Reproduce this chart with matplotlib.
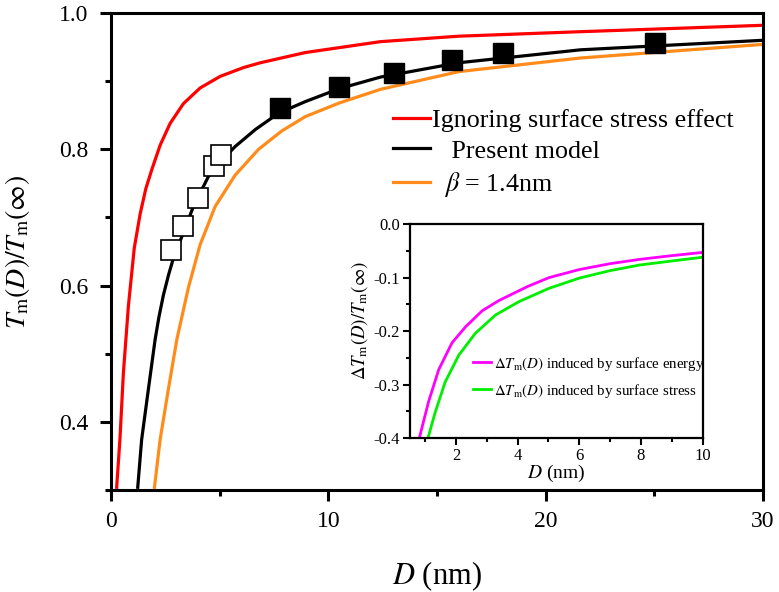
import matplotlib
matplotlib.use("Agg")
import matplotlib.pyplot as plt
from matplotlib.ticker import MultipleLocator

plt.rcParams['font.family'] = ['Liberation Serif', 'DejaVu Serif']
plt.rcParams['mathtext.fontset'] = 'stix'
plt.rcParams['axes.unicode_minus'] = False

# main curves: (D in nm, Tm(D)/Tm(inf))
red_D = [0.26, 0.41, 0.57, 0.80, 1.07, 1.34, 1.60, 1.875, 2.26, 2.72, 3.33, 4.10, 5.02, 6.10, 6.87, 8.94, 12.4, 16.0, 21.6, 30.0]
red_T = [0.304, 0.374, 0.472, 0.570, 0.655, 0.705, 0.742, 0.770, 0.806, 0.838, 0.867, 0.890, 0.907, 0.920, 0.927, 0.942, 0.958, 0.966, 0.9726, 0.982]

blk_D = [1.23, 1.41, 1.72, 2.03, 2.20, 2.41, 2.65, 2.87, 3.26, 3.79, 4.48, 5.10, 5.71, 6.64, 7.71, 8.94, 10.5, 12.4, 16.0, 21.6, 30.0]
blk_T = [0.304, 0.374, 0.448, 0.521, 0.553, 0.586, 0.616, 0.640, 0.672, 0.716, 0.760, 0.784, 0.804, 0.829, 0.853, 0.870, 0.889, 0.906, 0.927, 0.946, 0.960]

org_D = [2.0, 2.26, 2.64, 3.03, 3.56, 4.10, 4.79, 5.71, 6.79, 7.86, 8.94, 10.5, 12.4, 16.0, 21.6, 30.0]
org_T = [0.304, 0.374, 0.448, 0.521, 0.597, 0.660, 0.716, 0.762, 0.800, 0.827, 0.848, 0.868, 0.888, 0.914, 0.934, 0.954]

# experimental points
open_D = [2.75, 3.33, 4.0, 4.75, 5.05]
open_T = [0.652, 0.688, 0.729, 0.775, 0.792]
fill_D = [7.79, 10.5, 13.0, 15.7, 18.03, 25.04]
fill_T = [0.860, 0.891, 0.912, 0.931, 0.941, 0.9556]

# inset curves
mag_D = [0.81, 1.11, 1.44, 1.87, 2.31, 2.85, 3.39, 4.31, 5.02, 6.0, 7.0, 7.95, 9.0, 10.0]
mag_dT = [-0.40, -0.332, -0.272, -0.222, -0.192, -0.162, -0.143, -0.117, -0.100, -0.085, -0.074, -0.066, -0.059, -0.053]
grn_D = [1.09, 1.33, 1.65, 2.09, 2.63, 3.28, 4.04, 5.02, 6.0, 7.0, 7.95, 9.0, 10.0]
grn_dT = [-0.40, -0.351, -0.295, -0.245, -0.204, -0.170, -0.145, -0.120, -0.101, -0.087, -0.0766, -0.069, -0.062]

fig = plt.figure(figsize=(7.79, 5.92), dpi=100)
ax = fig.add_axes([0.1425, 0.1723, 0.837, 0.8057])

lw = 2.3
ax.plot(red_D, red_T, color='#ff0000', lw=lw, label='Ignoring surface stress effect')
ax.plot(blk_D, blk_T, color='black', lw=lw, label='   Present model')
ax.plot(org_D, org_T, color='#ff8c1a', lw=lw, label=r'  $\beta$ = 1.4nm')
ax.plot(open_D, open_T, 's', color='black', mfc='white', mew=1.2, ms=14, ls='none')
ax.plot(fill_D, fill_T, 's', color='black', ms=14, ls='none')

ax.set_xlim(0, 30)
ax.set_ylim(0.3, 1.0)
ax.xaxis.set_major_locator(MultipleLocator(10))
ax.xaxis.set_minor_locator(MultipleLocator(5))
ax.yaxis.set_minor_locator(MultipleLocator(0.1))
ax.set_yticks([0.4, 0.6, 0.8, 1.0])
ax.tick_params(which='major', direction='out', length=8, width=2.2, labelsize=17)
ax.tick_params(axis='x', which='major', pad=7)
ax.tick_params(axis='y', which='major', pad=8)
ax.tick_params(which='minor', direction='out', length=4, width=2.2)
for s in ax.spines.values():
    s.set_linewidth(2.2)
ax.set_xlabel(r'$D$ (nm)', fontsize=22, labelpad=20)
ax.set_ylabel(r'$T_{\rm m}(D)/T_{\rm m}(\infty)$', fontsize=20, labelpad=20)

ax.legend(loc='upper left', bbox_to_anchor=(0.433, 0.80), frameon=False,
          fontsize=18.7, handlelength=1.42, handletextpad=0.05,
          borderpad=0, borderaxespad=0, labelspacing=0.3)

# inset
ins = fig.add_axes([0.526, 0.260, 0.376, 0.3615])
ins.plot(mag_D, mag_dT, color='#ff00ff', lw=2, label=r'$\Delta T_{\rm m}(D)$ induced by surface energy')
ins.plot(grn_D, grn_dT, color='#00ee00', lw=2, label=r'$\Delta T_{\rm m}(D)$ induced by surface stress')
ins.set_xlim(0.5, 10)
ins.set_ylim(-0.4, 0.0)
ins.xaxis.set_major_locator(MultipleLocator(2))
ins.xaxis.set_minor_locator(MultipleLocator(1))
ins.yaxis.set_major_locator(MultipleLocator(0.1))
ins.yaxis.set_minor_locator(MultipleLocator(0.05))
ins.tick_params(which='major', direction='out', length=5, width=1.5, labelsize=12, pad=2)
ins.tick_params(which='minor', direction='out', length=3, width=1.5)
for s in ins.spines.values():
    s.set_linewidth(1.6)
ins.set_xlabel(r'$D$ (nm)', fontsize=14, labelpad=-1)
ins.set_ylabel(r'$\Delta T_{\rm m}(D)/T_{\rm m}(\infty)$', fontsize=13.5)
ins.yaxis.set_label_coords(-0.137, 0.55)
ins.legend(loc='upper left', bbox_to_anchor=(0.215, 0.39), frameon=False, fontsize=10.7,
           handlelength=1.2, handletextpad=0.25, borderpad=0, borderaxespad=0, labelspacing=0.6)

fig.savefig('out.png', dpi=100)
